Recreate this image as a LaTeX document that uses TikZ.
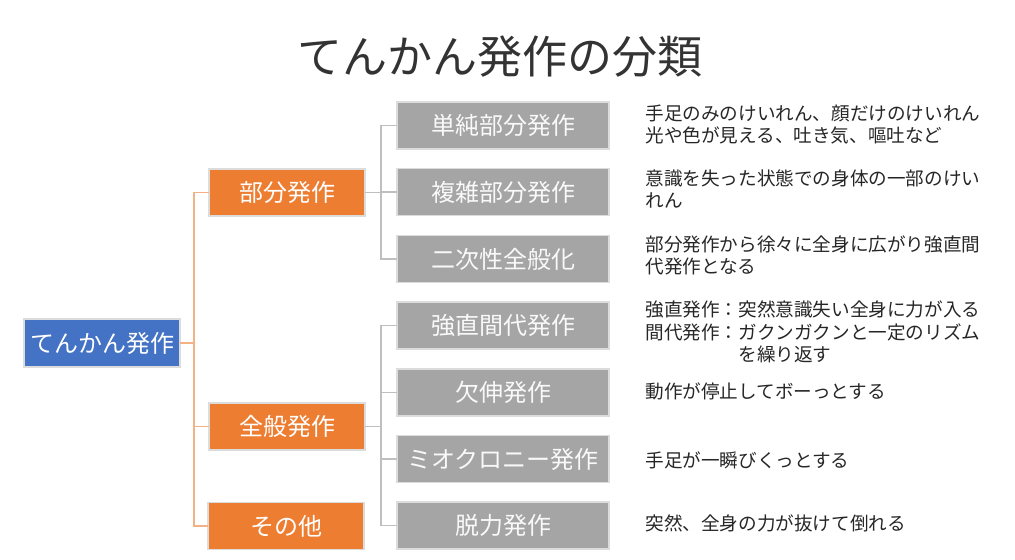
\documentclass[tikz,border=0pt]{standalone}
\usepackage{fontspec}
\setmainfont{Noto Sans CJK JP}
\usetikzlibrary{positioning}
\definecolor{rootblue}{HTML}{4472C4}
\definecolor{grouporange}{HTML}{ED7D31}
\definecolor{typegray}{HTML}{A5A5A5}
\definecolor{linkorange}{HTML}{F4B183}
\definecolor{linkgray}{HTML}{BFBFBF}
\definecolor{boxedge}{HTML}{DCDCDC}
\tikzset{
  szroot/.style={draw=boxedge, line width=0.75pt, fill=rootblue, text=white, minimum width=78pt, minimum height=24pt, inner sep=0pt, outer sep=0pt, font=\fontsize{12}{14}\selectfont},
  szgroup/.style={draw=boxedge, line width=0.75pt, fill=grouporange, text=white, minimum width=78pt, minimum height=23.5pt, inner sep=0pt, outer sep=0pt, font=\fontsize{12}{14}\selectfont},
  sztype/.style={draw=boxedge, line width=0.75pt, fill=typegray, text=white!95!gray, minimum width=106pt, minimum height=23.5pt, inner sep=0pt, outer sep=0pt, font=\fontsize{12}{14}\selectfont},
  sznote/.style={anchor=west, align=left, inner sep=0pt, text=black!85, font=\fontsize{9.3}{11}\selectfont},
  szorange/.style={draw=linkorange, line width=0.75pt},
  szgray/.style={draw=linkgray, line width=0.75pt}
}
\begin{document}
\begin{tikzpicture}[x=0.5pt, y=-0.5pt, node distance=9.85pt]
\useasboundingbox (0,0) rectangle (1015,560);
\node[text=black!80, font=\fontsize{22.5}{27}\selectfont] (title) at (500,57) {てんかん発作の分類};
\node[szroot] (root) at (102,343) {てんかん発作};
\node[szgroup] (part) at (287,192.5) {部分発作};
\node[szgroup] (gen) at (287,426.5) {全般発作};
\node[szgroup] (other) at (286,526) {その他};
\node[sztype] (simple) at (503,125.5) {単純部分発作};
\node[sztype, below=of simple] (complex) {複雑部分発作};
\node[sztype, below=of complex] (second) {二次性全般化};
\node[sztype, below=of second] (tonic) {強直間代発作};
\node[sztype, below=of tonic] (absence) {欠伸発作};
\node[sztype, below=of absence] (myo) {ミオクロニー発作};
\node[sztype, below=of myo] (atonic) {脱力発作};
% bus lines
\coordinate (rootbus) at (194,0);
\coordinate (typebus) at (381,0);
\draw[szorange] (root.east) -- (root.east -| rootbus) |- (part.west);
\draw[szorange] (root.east -| rootbus) |- (gen.west);
\draw[szorange] (root.east -| rootbus) |- (other.west);
\draw[szgray] (part.east) -- (part.east -| typebus) |- (simple.west);
\draw[szgray] (part.east -| typebus) |- (complex.west);
\draw[szgray] (part.east -| typebus) |- (second.west);
\draw[szgray] (gen.east) -- (gen.east -| typebus) |- (tonic.west);
\draw[szgray] (gen.east -| typebus) |- (absence.west);
\draw[szgray] (gen.east -| typebus) |- (myo.west);
\draw[szgray] (gen.east -| typebus) |- (atonic.west);
% notes
\node[sznote] (simplenote) at (645,125) {手足のみのけいれん、顔だけのけいれん\\光や色が見える、吐き気、嘔吐など};
\node[sznote] (complexnote) at (645,189) {意識を失った状態での身体の一部のけい\\れん};
\node[sznote] (secondnote) at (645,255) {部分発作から徐々に全身に広がり強直間\\代発作となる};
\node[sznote] (tonicnote) at (645,334.5) {\begin{tabular}{@{}l@{}l@{}}強直発作：&突然意識失い全身に力が入る\\間代発作：&ガクンガクンと一定のリズム\\&を繰り返す\end{tabular}};
\node[sznote] (absencenote) at (645,391) {動作が停止してボーっとする};
\node[sznote] (myonote) at (645,460) {手足が一瞬びくっとする};
\node[sznote] (atonicnote) at (645,523) {突然、全身の力が抜けて倒れる};
\end{tikzpicture}
\end{document}
